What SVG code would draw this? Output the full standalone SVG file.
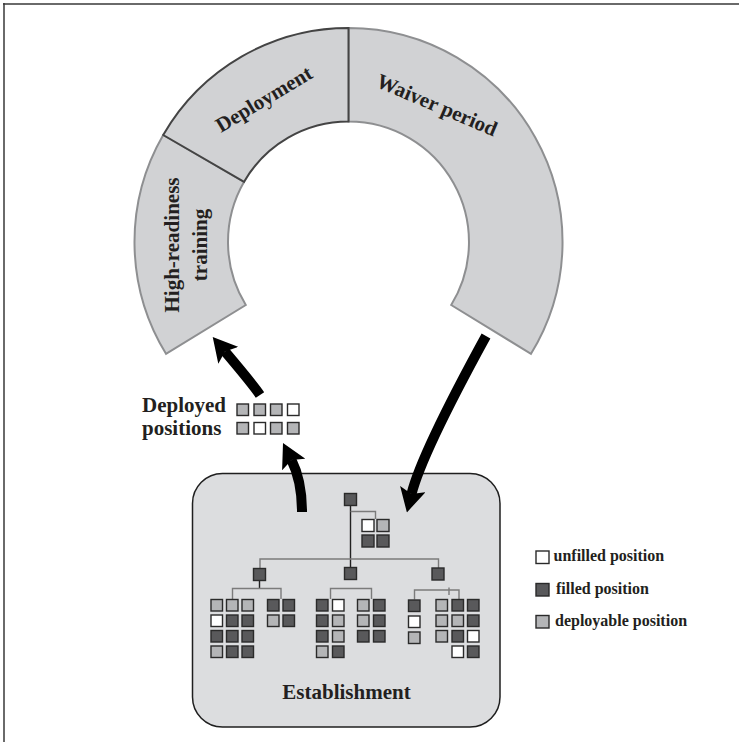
<svg xmlns="http://www.w3.org/2000/svg" width="739" height="742" viewBox="0 0 739 742">
<defs>
<style>
.lbl{font-family:"Liberation Serif","DejaVu Serif",serif;font-weight:bold;fill:#231f20}
.big{font-size:21px}
.leg{font-size:16px}
.seg{fill:#d1d2d4;stroke:#8e8f91;stroke-width:2;stroke-linejoin:miter}
.segd{fill:#d1d2d4;stroke:#444;stroke-width:2}
.sq{stroke:#2a2a2a;stroke-width:1.4}
.u{fill:#ffffff}
.f{fill:#59595b}
.d{fill:#b4b5b7}
.stem{fill:none;stroke:#000;stroke-width:10;stroke-linecap:butt}
.ln{fill:none;stroke:#7b7b7b;stroke-width:1.4}
.lnd{fill:none;stroke:#222;stroke-width:1.4}
</style>
<marker id="ah" markerUnits="userSpaceOnUse" viewBox="0 0 24 26" markerWidth="24" markerHeight="26" refX="5" refY="13" orient="auto">
<path d="M0,0 L24,13 L0,26 L5,13 Z" fill="#000"/>
</marker>
</defs>
<rect x="0" y="0" width="739" height="742" fill="#fff"/>
<path d="M3,4 H739 M4,3 V742" fill="none" stroke="#3a3a3a" stroke-width="1.5"/>

<g id="cycle">
<g id="hrt">
<path class="seg" d="M166,353.8 A214,214 0 0 1 163.2,135 L244.1,181.8 A120.5,120.5 0 0 0 245.8,305 Z"/>
<text class="lbl big" transform="translate(179,245) rotate(-90)" text-anchor="middle">High-readiness</text>
<text class="lbl big" transform="translate(207,245) rotate(-90)" text-anchor="middle">training</text>
</g>
<g id="waiver">
<path class="seg" d="M348.5,28 A214,214 0 0 1 531,353.8 L451.2,305 A120.5,120.5 0 0 0 348.5,121.5 Z"/>
<text class="lbl big" transform="translate(437,105) rotate(23)" text-anchor="middle" y="7">Waiver period</text>
</g>
<g id="deployment">
<path class="segd" d="M163.2,135 A214,214 0 0 1 348.5,28 L348.5,121.5 A120.5,120.5 0 0 0 244.1,181.8 Z"/>
<text class="lbl big" transform="translate(264,99) rotate(-31)" text-anchor="middle" y="7">Deployment</text>
</g>
</g>

<g id="deployed">
<text class="lbl big" x="142" y="412">Deployed</text>
<text class="lbl big" x="142" y="435">positions</text>
<rect class="sq d" x="237" y="404" width="11.5" height="11.5"/>
<rect class="sq d" x="254" y="404" width="11.5" height="11.5"/>
<rect class="sq d" x="270.5" y="404" width="11.5" height="11.5"/>
<rect class="sq u" x="287.5" y="404" width="11.5" height="11.5"/>
<rect class="sq d" x="237" y="422.5" width="11.5" height="11.5"/>
<rect class="sq u" x="254" y="422.5" width="11.5" height="11.5"/>
<rect class="sq d" x="270.5" y="422.5" width="11.5" height="11.5"/>
<rect class="sq d" x="287.5" y="422.5" width="11.5" height="11.5"/>
</g>

<g id="establishment">
<rect x="192.5" y="473.5" width="307.5" height="253.5" rx="30" fill="#dcdddf" stroke="#1f1f1f" stroke-width="1.5"/>
<text class="lbl big" x="346.5" y="699" text-anchor="middle">Establishment</text>
<g id="orglines">
<path class="lnd" d="M350.5,505.5 V567.5"/>
<path class="ln" d="M350.5,511.5 H375.5 V519"/>
<path class="ln" d="M260,568.5 V559 H438.5 V568"/>
<path class="lnd" d="M259.5,580.5 V588.5"/>
<path class="ln" d="M232.5,599 V588.5 H281 V599"/>
<path class="ln" d="M330.5,599 V588.5 H371.5 V599"/>
<path class="ln" d="M414.5,599.5 V590 H459 V599 M449,587.5 V595"/>
</g>
<g id="orgnodes">
<rect class="sq f" x="344.5" y="493.5" width="12" height="12"/>
<rect class="sq u" x="362" y="519.5" width="12" height="12"/>
<rect class="sq d" x="377" y="519.5" width="12" height="12"/>
<rect class="sq f" x="362" y="535" width="12" height="12"/>
<rect class="sq f" x="377" y="535" width="12" height="12"/>
<rect class="sq f" x="253.5" y="568.5" width="12" height="12"/>
<rect class="sq f" x="344.5" y="567.5" width="12" height="12"/>
<rect class="sq f" x="432" y="568" width="12" height="12"/>
<!-- group A -->
<rect class="sq d" x="211" y="599.5" width="11.5" height="11.5"/>
<rect class="sq d" x="226.5" y="599.5" width="11.5" height="11.5"/>
<rect class="sq d" x="242" y="599.5" width="11.5" height="11.5"/>
<rect class="sq u" x="211" y="615" width="11.5" height="11.5"/>
<rect class="sq f" x="226.5" y="615" width="11.5" height="11.5"/>
<rect class="sq f" x="242" y="615" width="11.5" height="11.5"/>
<rect class="sq f" x="211" y="630.5" width="11.5" height="11.5"/>
<rect class="sq f" x="226.5" y="630.5" width="11.5" height="11.5"/>
<rect class="sq f" x="242" y="630.5" width="11.5" height="11.5"/>
<rect class="sq d" x="211" y="646" width="11.5" height="11.5"/>
<rect class="sq f" x="226.5" y="646" width="11.5" height="11.5"/>
<rect class="sq f" x="242" y="646" width="11.5" height="11.5"/>
<!-- group B -->
<rect class="sq f" x="267.5" y="599.5" width="11.5" height="11.5"/>
<rect class="sq f" x="283" y="599.5" width="11.5" height="11.5"/>
<rect class="sq d" x="267.5" y="615" width="11.5" height="11.5"/>
<rect class="sq f" x="283" y="615" width="11.5" height="11.5"/>
<!-- group C -->
<rect class="sq f" x="316.5" y="599.5" width="11.5" height="11.5"/>
<rect class="sq u" x="332.5" y="599.5" width="11.5" height="11.5"/>
<rect class="sq f" x="316.5" y="615" width="11.5" height="11.5"/>
<rect class="sq d" x="332.5" y="615" width="11.5" height="11.5"/>
<rect class="sq f" x="316.5" y="630.5" width="11.5" height="11.5"/>
<rect class="sq d" x="332.5" y="630.5" width="11.5" height="11.5"/>
<rect class="sq d" x="316.5" y="646" width="11.5" height="11.5"/>
<rect class="sq f" x="332.5" y="646" width="11.5" height="11.5"/>
<!-- group D -->
<rect class="sq d" x="357.5" y="599.5" width="11.5" height="11.5"/>
<rect class="sq f" x="373.5" y="599.5" width="11.5" height="11.5"/>
<rect class="sq d" x="357.5" y="615" width="11.5" height="11.5"/>
<rect class="sq f" x="373.5" y="615" width="11.5" height="11.5"/>
<rect class="sq f" x="357.5" y="630.5" width="11.5" height="11.5"/>
<rect class="sq f" x="373.5" y="630.5" width="11.5" height="11.5"/>
<!-- group E -->
<rect class="sq f" x="408.5" y="600" width="11.5" height="11.5"/>
<rect class="sq u" x="408.5" y="616" width="11.5" height="11.5"/>
<rect class="sq d" x="408.5" y="632" width="11.5" height="11.5"/>
<!-- group F -->
<rect class="sq d" x="436" y="599.5" width="11.5" height="11.5"/>
<rect class="sq f" x="452" y="599.5" width="11.5" height="11.5"/>
<rect class="sq f" x="467.5" y="599.5" width="11.5" height="11.5"/>
<rect class="sq d" x="436" y="615" width="11.5" height="11.5"/>
<rect class="sq d" x="452" y="615" width="11.5" height="11.5"/>
<rect class="sq f" x="467.5" y="615" width="11.5" height="11.5"/>
<rect class="sq d" x="436" y="630.5" width="11.5" height="11.5"/>
<rect class="sq f" x="452" y="630.5" width="11.5" height="11.5"/>
<rect class="sq u" x="467.5" y="630.5" width="11.5" height="11.5"/>
<rect class="sq u" x="452" y="646" width="11.5" height="11.5"/>
<rect class="sq f" x="467.5" y="646" width="11.5" height="11.5"/>
</g>
</g>

<g id="connectors">
<path class="stem" d="M260,395 Q253.2,384.8 225,351.5" marker-end="url(#ah)"/>
<path class="stem" d="M302,512 Q302,481 291.5,460" marker-end="url(#ah)"/>
<path class="stem" d="M486,336 Q421.6,453.6 411.5,494" marker-end="url(#ah)"/>
</g>

<g id="legend">
<rect class="sq u" x="536" y="551" width="13" height="12.5"/>
<text class="lbl leg" x="553.5" y="561">unfilled position</text>
<rect class="sq f" x="536" y="583.5" width="13" height="12.5"/>
<text class="lbl leg" x="556" y="593.5">filled position</text>
<rect class="sq d" x="536" y="615.5" width="13" height="12.5"/>
<text class="lbl leg" x="555" y="625.5">deployable position</text>
</g>
</svg>
